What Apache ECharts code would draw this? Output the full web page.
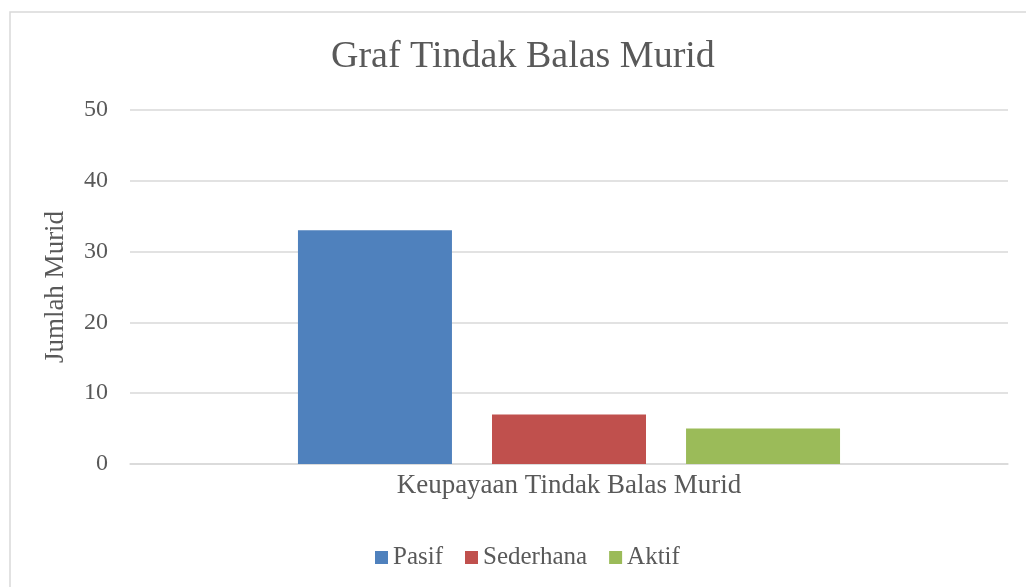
<!DOCTYPE html>
<html>
<head>
<meta charset="utf-8">
<script src="https://cdn.jsdelivr.net/npm/echarts@6/dist/echarts.min.js"></script>
<style>html,body{margin:0;padding:0;background:#fff}#c{width:1026px;height:587px}</style>
</head>
<body>
<div id="c"></div>
<script>
const categories = ['Keupayaan Tindak Balas Murid'];
const seriesNames = ['Pasif', 'Sederhana', 'Aktif'];
const pasif = [33];
const sederhana = [7];
const aktif = [5];
const yTicks = [0, 10, 20, 30, 40, 50];

const colors = ['#4f81bd', '#c0504d', '#9bbb59'];
const font = '"Liberation Serif", "DejaVu Serif", serif';
const txt = '#595959';

const chart = echarts.init(document.getElementById('c'));
chart.setOption({
  animation: false,
  backgroundColor: '#fff',
  graphic: [{
    type: 'rect', shape: {x: 10, y: 12, width: 1030, height: 600},
    style: {fill: 'none', stroke: '#d9d9d9', lineWidth: 1.5}, silent: true, z: -1
  }],
  title: {
    text: 'Graf Tindak Balas Murid', left: 326, top: 33,
    textStyle: {fontFamily: font, fontSize: 38, fontWeight: 'normal', color: txt}
  },
  legend: {
    data: seriesNames, top: 540, left: 370, itemWidth: 13, itemHeight: 13, itemGap: 22,
    icon: 'rect',
    textStyle: {fontFamily: font, fontSize: 25, color: txt}
  },
  grid: {left: 130, right: 18, top: 110, bottom: 123},
  xAxis: {
    type: 'category', data: categories,
    name: categories[0], nameLocation: 'middle', nameGap: 8,
    nameTextStyle: {fontFamily: font, fontSize: 27, color: txt},
    axisLabel: {show: false}, axisTick: {show: false},
    axisLine: {lineStyle: {color: '#d9d9d9', width: 1.5}}
  },
  yAxis: {
    type: 'value', min: yTicks[0], max: yTicks[yTicks.length - 1], interval: 10,
    name: 'Jumlah Murid', nameLocation: 'middle', nameGap: 61, nameRotate: 90,
    nameTextStyle: {fontFamily: font, fontSize: 27, color: txt},
    axisLabel: {fontFamily: font, fontSize: 24, color: txt, margin: 22},
    axisLine: {show: false}, axisTick: {show: false},
    splitLine: {lineStyle: {color: '#d9d9d9', width: 1.5}}
  },
  series: [
    {name: seriesNames[0], type: 'bar', data: pasif, barWidth: 154, barGap: '26%', itemStyle: {color: colors[0]}},
    {name: seriesNames[1], type: 'bar', data: sederhana, barWidth: 154, barGap: '26%', itemStyle: {color: colors[1]}},
    {name: seriesNames[2], type: 'bar', data: aktif, barWidth: 154, barGap: '26%', itemStyle: {color: colors[2]}}
  ]
});
</script>
</body>
</html>
